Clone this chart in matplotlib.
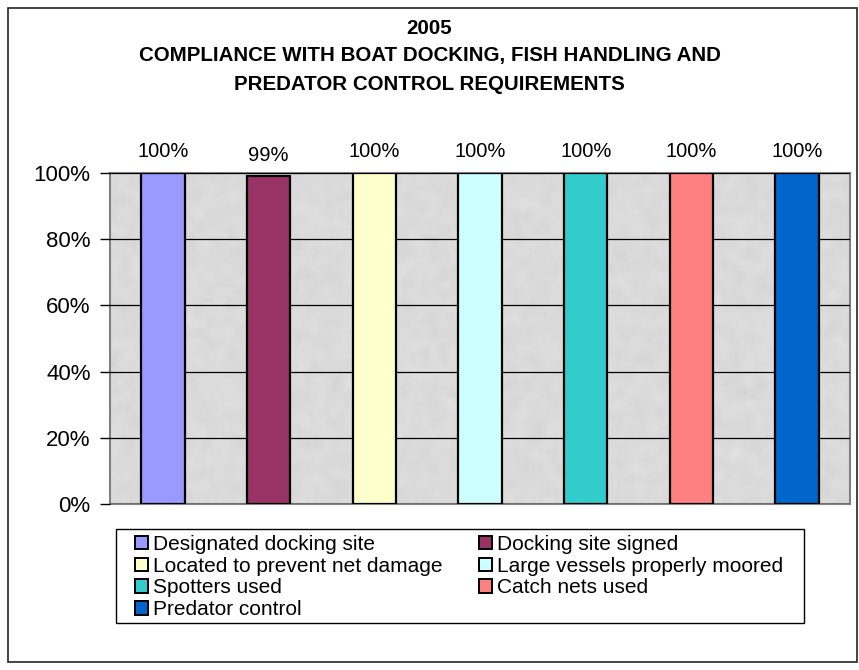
import numpy as np
import matplotlib
matplotlib.use("Agg")
import matplotlib.pyplot as plt
from matplotlib.patches import Rectangle, Patch
from matplotlib.ticker import FuncFormatter

plt.rcParams['font.family'] = ['Liberation Sans', 'DejaVu Sans']

categories = [
    "Designated docking site",
    "Docking site signed",
    "Located to prevent net damage",
    "Large vessels properly moored",
    "Spotters used",
    "Catch nets used",
    "Predator control",
]
values = [100, 99, 100, 100, 100, 100, 100]
colors = ["#9999FF", "#993366", "#FFFFCC", "#CCFFFF", "#33CCCC", "#FF8080", "#0066CC"]
yticks = [0, 20, 40, 60, 80, 100]
title = "2005\nCOMPLIANCE WITH BOAT DOCKING, FISH HANDLING AND\nPREDATOR CONTROL REQUIREMENTS"

fig = plt.figure(figsize=(8.59, 6.70), dpi=100)
W, H = 859, 670

# outer chart frame
fig.patches.append(Rectangle((8 / W, 1 - 662 / H), 849 / W, 654 / H,
                             transform=fig.transFigure, fill=False,
                             edgecolor="#222222", linewidth=1.2))

fig.text(0.5, 1 - 56 / H, title, ha="center", va="center", fontsize=14.8,
         fontweight="bold", linespacing=1.6)

ax = fig.add_axes([110 / W, 1 - 504 / H, 740 / W, 331 / H])

# granite-like plot area fill
rng = np.random.default_rng(7)
tex = rng.normal(0.0, 1.0, (90, 200))
k = np.ones(3) / 3
tex = np.apply_along_axis(lambda r: np.convolve(r, k, mode="same"), 1, tex)
tex = np.apply_along_axis(lambda c: np.convolve(c, k, mode="same"), 0, tex)
tex = 0.855 + 0.022 * tex
ax.imshow(tex, cmap="gray", vmin=0, vmax=1, extent=[0, 1, 0, 1],
          transform=ax.transAxes, aspect="auto", zorder=0, interpolation="bilinear")

x = np.arange(len(categories))
bars = ax.bar(x, values, width=0.41, color=colors, edgecolor="black",
              linewidth=1.6, zorder=3)
for b, v in zip(bars, values):
    ax.annotate(f"{v}%", (b.get_x() + b.get_width() / 2, v),
                xytext=(0, 8.5), textcoords="offset points",
                ha="center", va="bottom", fontsize=14.5)

ax.set_xlim(-0.5, len(categories) - 0.5)
ax.set_ylim(0, 100)
ax.set_yticks(yticks)
ax.yaxis.set_major_formatter(FuncFormatter(lambda v, p: f"{int(v)}%"))
ax.tick_params(axis="y", length=7, width=1, color="black", labelsize=16, pad=7)
ax.tick_params(axis="x", length=0, labelbottom=False)
ax.grid(axis="y", color="black", linewidth=0.9, zorder=1)
ax.set_axisbelow(False)
for sp in ax.spines.values():
    sp.set_color("#808080")
    sp.set_linewidth(1.5)
    sp.set_zorder(2)

# legend entries laid out row by row in two columns
order = [0, 2, 4, 6, 1, 3, 5]
handles = [Patch(facecolor=colors[i], edgecolor="black", linewidth=1.4) for i in order]
labels = [categories[i] for i in order]
leg = fig.legend(handles, labels, ncol=2, loc="upper left",
                 bbox_to_anchor=(135 / W, 1 - 535 / H), fontsize=15,
                 frameon=False, handlelength=0.63, handleheight=0.63,
                 handletextpad=0.25, labelspacing=0.13, columnspacing=1.73,
                 borderpad=0, borderaxespad=0)
fig.patches.append(Rectangle((116 / W, 1 - 623 / H), 688 / W, 94 / H,
                             transform=fig.transFigure, fill=False,
                             edgecolor="black", linewidth=1.0))

fig.savefig("out.png", dpi=100)
